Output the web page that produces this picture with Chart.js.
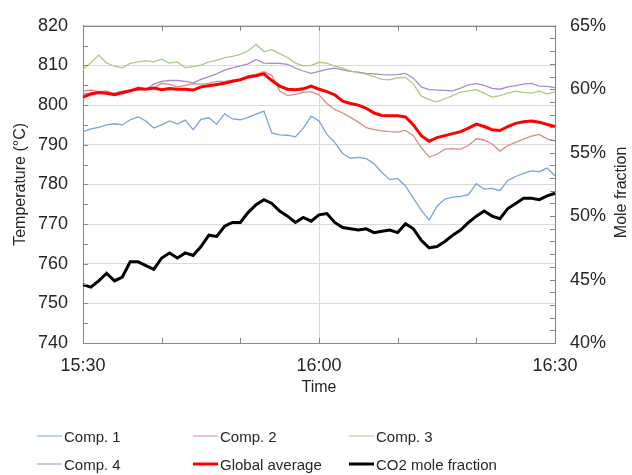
<!DOCTYPE html>
<html>
<head>
<meta charset="utf-8">
<script src="https://cdn.jsdelivr.net/npm/chart.js@4/dist/chart.umd.min.js"></script>
<style>
  html, body { margin: 0; padding: 0; background: #fff; }
  #wrap { position: relative; width: 632px; height: 475px; font-family: "Liberation Sans", Arial, sans-serif; }
  #c { position: absolute; left: 0; top: 0; }
  .leg { position: absolute; display: flex; align-items: center; font-size: 15px; color: #262626; white-space: nowrap; transform: translateY(-50%); }
  .leg i { display: inline-block; width: 25px; margin-right: 2px; }
</style>
</head>
<body>
<div id="wrap">
  <canvas id="c" width="632" height="475"></canvas>
  <div id="legend"></div>
</div>
<script>
// Sampling times, one per minute
const times = [
  "15:30","15:31","15:32","15:33","15:34","15:35","15:36","15:37","15:38","15:39",
  "15:40","15:41","15:42","15:43","15:44","15:45","15:46","15:47","15:48","15:49",
  "15:50","15:51","15:52","15:53","15:54","15:55","15:56","15:57","15:58","15:59",
  "16:00","16:01","16:02","16:03","16:04","16:05","16:06","16:07","16:08","16:09",
  "16:10","16:11","16:12","16:13","16:14","16:15","16:16","16:17","16:18","16:19",
  "16:20","16:21","16:22","16:23","16:24","16:25","16:26","16:27","16:28","16:29","16:30"
];
// Labelled times and tick marks on the time axis
const timeLabels = ["15:30", "16:00", "16:30"];
const timeMarks = ["15:30", "15:40", "15:50", "16:00", "16:10", "16:20", "16:30"];

// Temperatures (°C)
const comp1 = [
  793.3,794.0,794.4,795.0,795.3,795.0,796.3,797.0,796.0,794.2,
  795.0,796.0,795.2,796.2,793.8,796.4,796.8,795.2,797.8,796.5,
  796.3,796.9,797.7,798.5,793.0,792.5,792.4,792.0,794.2,797.2,
  796.0,792.6,790.6,787.8,786.6,786.8,786.5,785.2,783.0,781.2,
  781.5,779.6,776.5,773.5,771.0,774.5,776.3,776.8,777.0,777.4,
  780.2,778.8,779.0,778.4,781.0,782.0,782.8,783.4,783.2,784.1,782.2
];
const comp2 = [
  803.5,803.8,803.4,803.6,802.8,803.2,803.8,804.5,804.0,804.3,
  805.5,805.2,804.6,805.0,805.4,805.3,805.5,806.0,806.0,806.3,
  806.5,807.4,807.8,808.4,807.5,803.6,802.4,802.7,803.2,803.4,
  802.6,800.4,798.9,798.0,796.9,795.7,794.3,793.8,793.5,793.3,
  793.2,793.6,792.3,789.3,786.9,787.6,788.9,789.0,788.9,789.8,
  791.5,791.2,790.2,788.4,789.8,790.6,791.4,792.2,792.6,791.5,791.0
];
const comp3 = [
  809.0,810.7,812.6,810.6,809.8,809.4,810.5,810.9,811.2,810.9,
  811.6,810.6,810.9,809.4,809.7,810.1,810.9,811.3,812.0,812.3,
  812.8,813.7,815.3,813.5,814.0,813.0,812.0,810.6,809.9,810.0,
  810.8,810.6,809.8,809.3,808.6,808.1,807.8,807.2,806.5,806.4,
  806.9,807.0,805.3,802.3,801.4,800.8,801.6,802.4,803.3,803.6,
  803.9,803.0,802.0,802.4,803.0,803.5,803.2,803.0,803.5,802.8,803.4
];
const comp4 = [
  802.8,803.0,803.4,803.2,803.0,803.5,803.8,803.7,804.0,805.3,
  806.0,806.2,806.2,806.0,805.6,806.5,807.2,807.9,808.8,809.4,
  809.9,810.4,811.5,810.6,810.5,810.5,810.3,809.3,808.6,808.0,
  808.5,809.0,809.3,808.9,808.5,808.3,808.0,807.9,807.7,807.6,
  807.7,808.0,806.8,804.6,803.9,803.8,803.7,803.6,804.3,805.1,
  805.4,805.0,804.2,804.0,804.6,804.9,805.3,805.5,804.8,804.7,804.4
];
const globalAverage = [
  802.0,802.8,803.2,803.0,802.6,803.1,803.6,804.2,804.0,804.3,
  803.9,804.2,804.0,804.0,803.8,804.6,804.9,805.2,805.5,806.0,
  806.4,807.1,807.4,807.9,806.2,804.8,804.0,803.9,804.1,804.8,
  804.0,803.4,802.6,801.0,800.4,800.0,799.2,798.0,797.4,797.3,
  797.3,797.0,795.0,792.3,790.9,791.8,792.3,792.8,793.3,794.2,
  795.2,794.6,793.8,793.6,794.6,795.4,795.8,796.0,795.7,795.1,794.6
];
// CO2 mole fraction (%)
const co2 = [
  44.6,44.4,44.9,45.5,44.9,45.2,46.4,46.4,46.1,45.8,
  46.7,47.1,46.7,47.1,46.9,47.6,48.5,48.4,49.2,49.5,
  49.5,50.3,50.9,51.3,51.0,50.4,50.0,49.5,49.9,49.6,
  50.1,50.2,49.5,49.1,49.0,48.9,49.0,48.7,48.8,48.9,
  48.7,49.4,49.0,48.1,47.5,47.6,48.0,48.5,48.9,49.5,
  50.0,50.4,50.0,49.8,50.6,51.0,51.4,51.4,51.3,51.6,51.8
];

// Axis ranges and tick spacing
const tempRange = [740, 820], tempStep = 10, tempMinor = 5;
const fracRange = [40, 65], fracStep = 5, fracMinor = 1;

const AXIS = '#868686', GRID = '#d9d9d9', TEXT = '#262626';
const FONT = '"Liberation Sans", Arial, sans-serif';

const series = [
  { label: 'Comp. 1', data: comp1, color: '#7aa3d6', width: 1.3, axis: 'y', order: 2 },
  { label: 'Comp. 2', data: comp2, color: '#dc8a88', width: 1.3, axis: 'y', order: 2 },
  { label: 'Comp. 3', data: comp3, color: '#a9cc80', width: 1.3, axis: 'y', order: 2 },
  { label: 'Comp. 4', data: comp4, color: '#a88cc8', width: 1.3, axis: 'y', order: 2 },
  { label: 'Global average', data: globalAverage, color: '#ff0000', width: 3, axis: 'y', order: 1 },
  { label: 'CO2 mole fraction', data: co2, color: '#000000', width: 3, axis: 'y2', order: 0 }
];

// Inward tick marks, top frame edge and the right-hand axis title
const framePlugin = {
  id: 'frame',
  afterDraw(chart) {
    const { ctx, chartArea: a, scales } = chart;
    const px = v => Math.round(v) + 0.5;
    ctx.save();
    ctx.strokeStyle = AXIS;
    ctx.lineWidth = 1;
    ctx.beginPath();
    ctx.moveTo(a.left, px(a.top));
    ctx.lineTo(a.right, px(a.top));
    for (let v = tempRange[0]; v <= tempRange[1]; v += tempMinor) {
      const y = px(scales.y.getPixelForValue(v));
      ctx.moveTo(a.left, y); ctx.lineTo(a.left + 5, y);
    }
    for (let v = fracRange[0]; v <= fracRange[1]; v += fracMinor) {
      const y = px(scales.y2.getPixelForValue(v));
      ctx.moveTo(a.right - 5, y); ctx.lineTo(a.right, y);
    }
    timeMarks.forEach(t => {
      const x = px(scales.x.getPixelForValue(times.indexOf(t)));
      ctx.moveTo(x, a.bottom); ctx.lineTo(x, a.bottom - 5);
      ctx.moveTo(x, a.top); ctx.lineTo(x, a.top + 5);
    });
    ctx.stroke();

    ctx.fillStyle = TEXT;
    ctx.font = '16px ' + FONT;
    ctx.textAlign = 'center';
    ctx.textBaseline = 'middle';
    ctx.translate(622, (a.top + a.bottom) / 2 + 8);
    ctx.rotate(-Math.PI / 2);
    ctx.fillText('Mole fraction', 0, 0);
    ctx.restore();
  }
};

new Chart(document.getElementById('c'), {
  type: 'line',
  data: {
    labels: times,
    datasets: series.map(s => ({
      label: s.label,
      data: s.data,
      yAxisID: s.axis,
      borderColor: s.color,
      backgroundColor: s.color,
      borderWidth: s.width,
      pointRadius: 0,
      tension: 0,
      fill: false,
      order: s.order
    }))
  },
  options: {
    responsive: false,
    devicePixelRatio: 1,
    animation: false,
    layout: { padding: { top: 20, bottom: 72, left: 0, right: 0 } },
    plugins: { legend: { display: false }, tooltip: { enabled: false } },
    scales: {
      x: {
        type: 'category',
        offset: false,
        afterFit: s => { s.height = 60; },
        border: { color: AXIS },
        grid: {
          drawTicks: false,
          color: c => (times[c.index] === '16:00' ? GRID : 'rgba(0,0,0,0)')
        },
        ticks: {
          autoSkip: false,
          maxRotation: 0,
          padding: 12,
          color: TEXT,
          font: { size: 18, family: FONT },
          callback: (v, i) => (timeLabels.includes(times[i]) ? times[i] : '')
        },
        title: { display: true, text: 'Time', color: TEXT, font: { size: 16, family: FONT }, padding: { top: 0, bottom: 6 } }
      },
      y: {
        position: 'left',
        min: tempRange[0], max: tempRange[1],
        afterFit: s => { s.width = 83; },
        border: { color: AXIS },
        grid: { drawTicks: false, color: GRID },
        ticks: { stepSize: tempStep, padding: 15, color: TEXT, font: { size: 18, family: FONT } },
        title: { display: true, text: 'Temperature (°C)', color: TEXT, font: { size: 16, family: FONT }, padding: { top: 11, bottom: 0 } }
      },
      y2: {
        position: 'right',
        min: fracRange[0], max: fracRange[1],
        afterFit: s => { s.width = 77; },
        border: { color: AXIS },
        grid: { drawOnChartArea: false, drawTicks: false },
        ticks: { stepSize: fracStep, padding: 15, color: TEXT, font: { size: 18, family: FONT }, callback: v => v + '%' }
      }
    }
  },
  plugins: [framePlugin]
});

// Legend: three columns, two rows
const legend = document.getElementById('legend');
const colX = [37, 193, 349], rowY = [436, 464];
series.forEach((s, i) => {
  const item = document.createElement('div');
  item.className = 'leg';
  item.style.left = colX[i % 3] + 'px';
  item.style.top = rowY[Math.floor(i / 3)] + 'px';
  const sw = document.createElement('i');
  sw.style.height = (s.width >= 3 ? 3 : 1.5) + 'px';
  sw.style.background = s.color;
  item.appendChild(sw);
  item.appendChild(document.createTextNode(s.label));
  legend.appendChild(item);
});
</script>
</body>
</html>
